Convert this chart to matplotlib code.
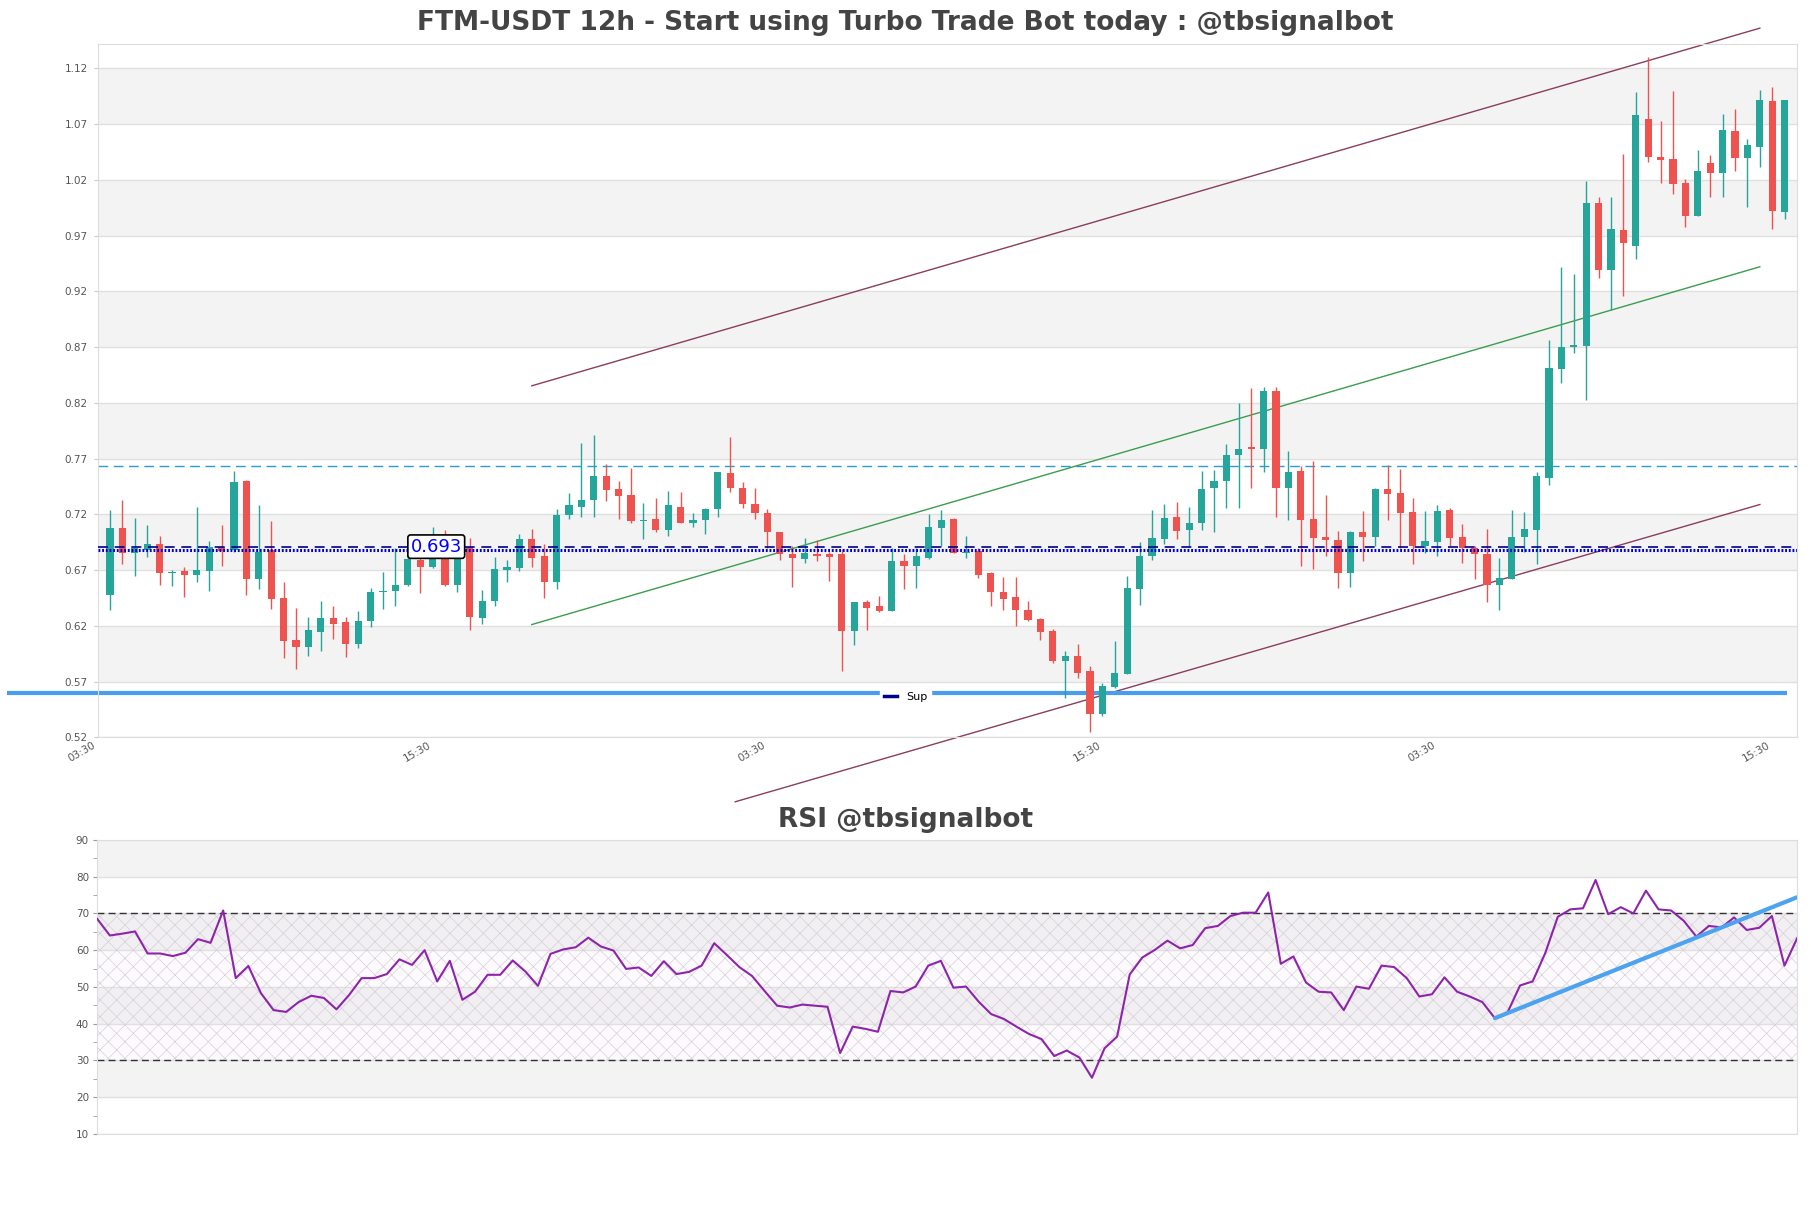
import numpy as np
import matplotlib.pyplot as plt
from matplotlib.lines import Line2D

plt.rcParams['hatch.linewidth'] = 0.5

# candle data (12h)
opens = [0.648, 0.708, 0.685, 0.688, 0.693, 0.667, 0.669, 0.666, 0.669, 0.691,
         0.688, 0.750, 0.662, 0.688, 0.645, 0.607, 0.601, 0.614, 0.627, 0.623,
         0.604, 0.624, 0.650, 0.651, 0.657, 0.679, 0.673, 0.681, 0.657, 0.691,
         0.627, 0.642, 0.670, 0.672, 0.698, 0.683, 0.659, 0.719, 0.727, 0.733,
         0.754, 0.743, 0.737, 0.714, 0.716, 0.706, 0.727, 0.712, 0.715, 0.725,
         0.757, 0.744, 0.729, 0.721, 0.704, 0.684, 0.680, 0.684, 0.684, 0.684,
         0.615, 0.641, 0.638, 0.633, 0.678, 0.674, 0.681, 0.708, 0.716, 0.685,
         0.687, 0.667, 0.650, 0.646, 0.634, 0.626, 0.615, 0.588, 0.593, 0.579,
         0.541, 0.565, 0.577, 0.653, 0.683, 0.698, 0.718, 0.706, 0.712, 0.744,
         0.750, 0.773, 0.780, 0.779, 0.831, 0.744, 0.759, 0.716, 0.700, 0.697,
         0.667, 0.704, 0.700, 0.743, 0.739, 0.722, 0.692, 0.695, 0.724, 0.700,
         0.690, 0.684, 0.657, 0.662, 0.700, 0.706, 0.753, 0.850, 0.870, 0.871,
         0.999, 0.939, 0.975, 0.961, 1.075, 1.041, 1.039, 1.017, 0.988, 1.035,
         1.026, 1.064, 1.040, 1.050, 1.091, 0.991]
highs = [0.724, 0.733, 0.717, 0.710, 0.701, 0.670, 0.673, 0.727, 0.696, 0.710,
         0.759, 0.751, 0.728, 0.714, 0.659, 0.636, 0.628, 0.642, 0.638, 0.628,
         0.633, 0.654, 0.668, 0.690, 0.684, 0.684, 0.709, 0.706, 0.699, 0.699,
         0.652, 0.682, 0.679, 0.702, 0.707, 0.693, 0.725, 0.739, 0.784, 0.791,
         0.765, 0.750, 0.762, 0.730, 0.735, 0.741, 0.740, 0.721, 0.726, 0.758,
         0.789, 0.749, 0.744, 0.725, 0.704, 0.692, 0.699, 0.697, 0.686, 0.689,
         0.641, 0.643, 0.647, 0.690, 0.684, 0.690, 0.720, 0.724, 0.717, 0.701,
         0.690, 0.668, 0.664, 0.664, 0.642, 0.627, 0.617, 0.597, 0.604, 0.584,
         0.569, 0.606, 0.665, 0.695, 0.724, 0.729, 0.731, 0.727, 0.759, 0.760,
         0.783, 0.820, 0.833, 0.834, 0.834, 0.777, 0.763, 0.768, 0.737, 0.705,
         0.705, 0.723, 0.744, 0.764, 0.761, 0.735, 0.723, 0.728, 0.726, 0.711,
         0.692, 0.707, 0.681, 0.724, 0.722, 0.758, 0.876, 0.942, 0.936, 1.019,
         1.005, 1.005, 1.043, 1.099, 1.130, 1.073, 1.100, 1.021, 1.047, 1.042,
         1.079, 1.084, 1.057, 1.101, 1.103, 1.092]
lows = [0.634, 0.675, 0.665, 0.682, 0.657, 0.656, 0.646, 0.659, 0.651, 0.674,
        0.686, 0.648, 0.653, 0.635, 0.591, 0.581, 0.593, 0.597, 0.608, 0.592,
        0.600, 0.619, 0.635, 0.638, 0.656, 0.649, 0.672, 0.656, 0.650, 0.616,
        0.622, 0.638, 0.659, 0.669, 0.673, 0.645, 0.653, 0.716, 0.718, 0.718,
        0.732, 0.716, 0.712, 0.698, 0.704, 0.701, 0.712, 0.709, 0.702, 0.718,
        0.740, 0.726, 0.716, 0.690, 0.679, 0.655, 0.676, 0.678, 0.660, 0.579,
        0.603, 0.616, 0.632, 0.633, 0.653, 0.654, 0.680, 0.692, 0.685, 0.681,
        0.663, 0.638, 0.634, 0.620, 0.624, 0.607, 0.587, 0.555, 0.573, 0.525,
        0.539, 0.564, 0.577, 0.639, 0.679, 0.693, 0.698, 0.691, 0.706, 0.704,
        0.726, 0.726, 0.744, 0.758, 0.718, 0.715, 0.674, 0.671, 0.683, 0.654,
        0.655, 0.678, 0.692, 0.715, 0.690, 0.675, 0.685, 0.683, 0.692, 0.676,
        0.662, 0.641, 0.634, 0.662, 0.686, 0.675, 0.746, 0.838, 0.865, 0.823,
        0.932, 0.903, 0.916, 0.949, 1.036, 1.017, 1.007, 0.978, 0.988, 1.005,
        1.005, 1.028, 0.996, 1.032, 0.976, 0.985]
closes = [0.708, 0.685, 0.690, 0.693, 0.667, 0.668, 0.666, 0.670, 0.691, 0.687,
          0.749, 0.662, 0.686, 0.644, 0.606, 0.601, 0.616, 0.627, 0.622, 0.604,
          0.624, 0.650, 0.651, 0.657, 0.680, 0.673, 0.681, 0.657, 0.691, 0.628,
          0.642, 0.671, 0.673, 0.698, 0.681, 0.659, 0.719, 0.728, 0.733, 0.754,
          0.742, 0.736, 0.714, 0.715, 0.706, 0.728, 0.712, 0.715, 0.725, 0.758,
          0.744, 0.729, 0.721, 0.704, 0.684, 0.681, 0.685, 0.683, 0.682, 0.615,
          0.641, 0.636, 0.633, 0.678, 0.674, 0.683, 0.709, 0.715, 0.685, 0.686,
          0.666, 0.650, 0.644, 0.634, 0.625, 0.614, 0.588, 0.593, 0.578, 0.541,
          0.566, 0.578, 0.654, 0.683, 0.699, 0.717, 0.705, 0.712, 0.743, 0.750,
          0.773, 0.779, 0.779, 0.831, 0.744, 0.758, 0.715, 0.699, 0.697, 0.667,
          0.704, 0.700, 0.743, 0.738, 0.721, 0.692, 0.696, 0.723, 0.699, 0.690,
          0.684, 0.657, 0.663, 0.700, 0.707, 0.754, 0.851, 0.870, 0.872, 0.999,
          0.939, 0.976, 0.963, 1.078, 1.041, 1.038, 1.016, 0.988, 1.028, 1.026,
          1.065, 1.040, 1.051, 1.092, 0.992, 1.092]

rsi = [68.5, 64.0, 64.5, 65.1, 59.1, 59.1, 58.4, 59.3, 63.0, 62.0,
       70.8, 52.4, 55.7, 48.3, 43.7, 43.2, 45.9, 47.6, 47.0, 43.9,
       47.8, 52.4, 52.4, 53.5, 57.5, 56.0, 60.0, 51.5, 57.1, 46.5,
       48.7, 53.3, 53.3, 57.2, 54.2, 50.3, 59.0, 60.2, 60.8, 63.4,
       61.0, 59.9, 54.9, 55.3, 53.0, 57.0, 53.5, 54.1, 55.8, 61.9,
       58.7, 55.4, 53.0, 48.9, 44.9, 44.4, 45.2, 44.9, 44.6, 32.0,
       39.2, 38.6, 37.8, 48.9, 48.5, 50.1, 55.8, 57.1, 49.8, 50.1,
       46.0, 42.6, 41.3, 39.2, 37.2, 35.8, 31.2, 32.7, 30.8, 25.3,
       33.3, 36.5, 53.4, 58.0, 60.1, 62.6, 60.5, 61.4, 66.0, 66.6,
       69.3, 70.2, 70.2, 75.7, 56.3, 58.3, 51.2, 48.7, 48.5, 43.7,
       50.1, 49.5, 55.8, 55.4, 52.4, 47.4, 48.0, 52.6, 48.7, 47.4,
       45.9, 41.5, 43.0, 50.4, 51.5, 59.2, 69.1, 71.1, 71.4, 79.1,
       69.8, 71.7, 70.0, 76.2, 71.1, 70.8, 68.0, 63.7, 66.6, 66.2,
       68.9, 65.5, 66.1, 69.3, 55.8, 63.2]

# x axis labels
xtick_pos = [-1, 26, 53, 80, 107, 134]
xtick_labels = ['03:30', '15:30', '03:30', '15:30', '03:30', '15:30']
price_ticks = [0.52, 0.57, 0.62, 0.67, 0.72, 0.77, 0.82, 0.87, 0.92, 0.97, 1.02, 1.07, 1.12]
rsi_ticks = [10, 20, 30, 40, 50, 60, 70, 80, 90]

# levels and drawn lines
resistance = 0.7637
pivot_dash = 0.691
pivot_dot = 0.688
pivot_label = '0.693'
sup_x, sup_y = [-8.3, 135.2], [0.5594, 0.5594]
upper_x, upper_y = [34, 133], [0.8353, 1.1562]
mid_x, mid_y = [34, 133], [0.6211, 0.9421]
lower_x, lower_y = [50.4, 133], [0.4621, 0.7288]
rsi_trend_x, rsi_trend_y = [111, 135], [41.5, 74.4]

GREEN = '#26a69a'
RED = '#ef5350'
BAND = '#f3f3f3'

fig = plt.figure(figsize=(18.11, 12.08), dpi=100)
ax = fig.add_axes([0.0539, 0.3897, 0.9384, 0.5739])
ax2 = fig.add_axes([0.0537, 0.0613, 0.9386, 0.2434])

# --- price panel ---
x = np.arange(len(opens))
o = np.array(opens)
c = np.array(closes)
cols = [GREEN if cc >= oo else RED for oo, cc in zip(o, c)]
ax.vlines(x, lows, highs, colors=cols, lw=1, zorder=3)
ax.bar(x, np.maximum(np.abs(c - o), 0.0012), bottom=np.minimum(o, c),
       width=0.58, color=cols, zorder=4)

for i in range(len(price_ticks) - 1):
    if i % 2 == 1:
        ax.axhspan(price_ticks[i], price_ticks[i + 1], color=BAND, zorder=0, lw=0)

ax.axhline(resistance, color='#2b9bd1', lw=1, dashes=(7, 4), zorder=2)
ax.axhline(pivot_dash, color='#00008b', lw=1.2, dashes=(6, 4), zorder=5)
ax.axhline(pivot_dot, color='#0000cd', lw=2.2, linestyle=(0, (0.6, 0.6)), zorder=5)

ax.plot(upper_x, upper_y, color='#8b3d5f', lw=1, clip_on=False, zorder=2)
ax.plot(mid_x, mid_y, color='#3a9d4f', lw=1, clip_on=False, zorder=2)
ax.plot(lower_x, lower_y, color='#8b3d5f', lw=1, clip_on=False, zorder=2)
ax.plot(sup_x, sup_y, color='#4a9cec', lw=3, clip_on=False, zorder=2,
        solid_capstyle='butt')

ax.text(26.3, pivot_dash, pivot_label, color='blue', fontsize=13, ha='center',
        va='center', zorder=6,
        bbox=dict(boxstyle='round,pad=0.15', fc='white', ec='black', lw=1.2))

ax.set_xlim(-1, 136)
ax.set_ylim(0.52, 1.142)
ax.set_yticks(price_ticks)
ax.set_yticklabels(['%.2f' % t for t in price_ticks])
ax.set_xticks(xtick_pos)
ax.set_xticklabels(xtick_labels, rotation=30, ha='right')
ax.yaxis.grid(True, color='#e0e0e0', lw=1)
ax.set_axisbelow(True)
ax.tick_params(axis='y', labelsize=7.5, labelcolor='#555555', length=3, color='#cccccc', pad=4)
ax.tick_params(axis='x', labelsize=7.5, labelcolor='#555555', length=0, pad=2)
for s in ax.spines.values():
    s.set_color('#dddddd')

# --- RSI panel ---
xr = np.arange(len(rsi))
for i in range(len(rsi_ticks) - 1):
    if i % 2 == 1:
        ax2.axhspan(rsi_ticks[i], rsi_ticks[i + 1], color=BAND, zorder=0, lw=0)
ax2.axhspan(30, 70, color='#9c27b0', alpha=0.02, lw=0, zorder=0)
ax2.fill_between([xr[0], xr[-1]], 30, 70, facecolor='none', edgecolor='#d6d0da',
                 hatch='xx', lw=0, zorder=1)
ax2.axhline(70, color='#333333', lw=1, dashes=(5, 3), zorder=2)
ax2.axhline(30, color='#333333', lw=1, dashes=(5, 3), zorder=2)
ax2.plot(xr, rsi, color='#8e24aa', lw=1.5, zorder=3)
ax2.plot(rsi_trend_x, rsi_trend_y, color='#4da3f0', lw=3, zorder=4,
         solid_capstyle='round')

ax2.set_xlim(0, len(rsi) - 1)
ax2.set_ylim(10, 90)
ax2.set_yticks(rsi_ticks)
ax2.set_yticks([15, 25, 35, 45, 55, 65, 75, 85], minor=True)
ax2.set_xticks([])
ax2.yaxis.grid(True, color='#e0e0e0', lw=1)
ax2.set_axisbelow(True)
ax2.tick_params(axis='y', which='both', labelsize=7.5, labelcolor='#555555',
                length=3, color='#999999', pad=3)
for s in ax2.spines.values():
    s.set_color('#dddddd')

# titles and legend
fig.text(0.5, 1 - 23 / 1208, 'FTM-USDT 12h - Start using Turbo Trade Bot today : @tbsignalbot',
         ha='center', va='center', fontsize=19, fontweight='bold', color='#444444')
fig.text(0.5, 1 - 820 / 1208, 'RSI @tbsignalbot', ha='center', va='center',
         fontsize=19, fontweight='bold', color='#444444')

handles = [Line2D([], [], color='#00008b', lw=2.5)]
fig.legend(handles, ['Sup'], loc='center', bbox_to_anchor=(0.5, 1 - 697 / 1208),
           fontsize=8, frameon=True, framealpha=1, edgecolor='white',
           facecolor='white', handlelength=1.2, borderpad=0.3)

fig.savefig('out.png', dpi=100)
